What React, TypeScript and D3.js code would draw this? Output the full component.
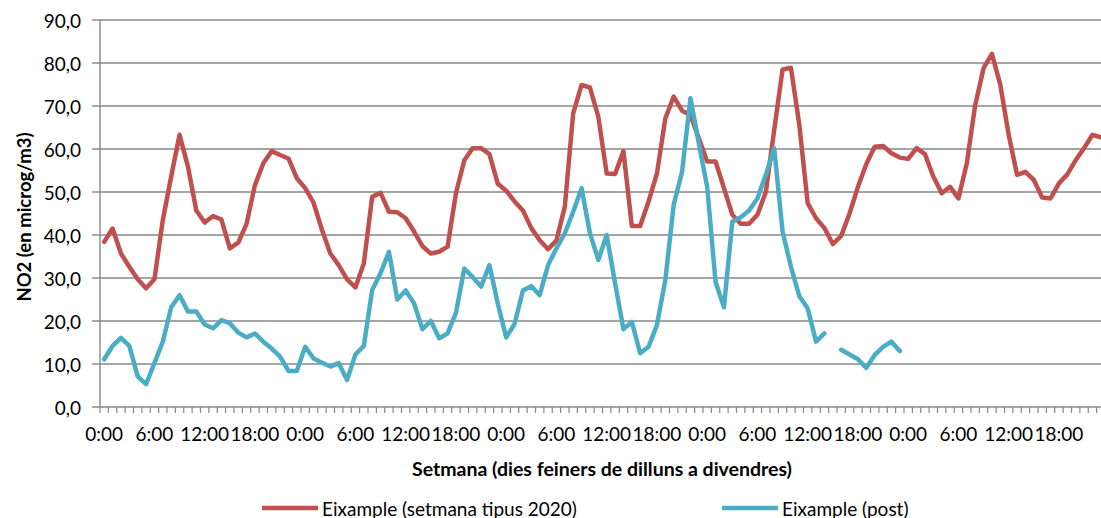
import React from "react";
import * as d3 from "d3";

const days = ["Dilluns", "Dimarts", "Dimecres", "Dijous", "Divendres"];
const hoursPerDay = 24;
const tickLabels = ["0:00", "6:00", "12:00", "18:00"];
const labelEvery = 6;
const yTicks = [0, 10, 20, 30, 40, 50, 60, 70, 80, 90];

const seriesNames = ["Eixample (setmana tipus 2020)", "Eixample (post)"];
const seriesColors = ["#C0504D", "#4BACC6"];

const tipus2020: (number | null)[] = [
  38.4, 41.5, 35.7, 32.6, 29.7, 27.6, 29.7, 43.5, 53.6, 63.3, 55.9, 45.7,
  42.9, 44.4, 43.6, 36.9, 38.2, 42.6, 51.6, 56.7, 59.5, 58.6, 57.8, 53.2,
  50.9, 47.5, 41.2, 35.7, 33.0, 29.7, 27.8, 33.4, 48.9, 49.8, 45.4, 45.3,
  43.9, 40.8, 37.4, 35.7, 36.1, 37.3, 49.7, 57.4, 60.2, 60.2, 58.8, 51.9,
  50.3, 47.8, 45.7, 41.6, 38.8, 36.7, 38.7, 46.6, 68.3, 74.9, 74.3, 67.5,
  54.3, 54.2, 59.5, 42.1, 42.1, 47.8, 54.3, 67.1, 72.2, 68.9, 67.9, 62.5,
  57.1, 57.1, 50.9, 44.7, 42.6, 42.6, 44.7, 50.0, 64.4, 78.5, 78.9, 65.6,
  47.4, 43.9, 41.6, 37.9, 39.8, 45.0, 51.2, 56.5, 60.5, 60.7, 59.0, 58.0,
  57.7, 60.2, 58.8, 53.6, 49.7, 51.2, 48.5, 56.7, 70.2, 78.8, 82.1, 74.9,
  63.3, 54.0, 54.7, 52.8, 48.7, 48.5, 52.0, 54.1, 57.4, 60.2, 63.3, 62.7,
];

const post: (number | null)[] = [
  11.1, 14.2, 16.1, 14.2, 7.1, 5.3, 10.2, 15.2, 23.2, 26.0, 22.2, 22.2,
  19.2, 18.3, 20.2, 19.5, 17.3, 16.2, 17.1, 15.2, 13.6, 11.7, 8.4, 8.4,
  14.0, 11.3, 10.3, 9.4, 10.2, 6.3, 12.2, 14.2, 27.2, 31.1, 36.1, 25.0,
  27.1, 24.1, 18.1, 20.0, 16.0, 17.1, 21.9, 32.2, 30.2, 28.0, 33.0, 24.0,
  16.2, 19.3, 27.1, 28.1, 26.0, 33.0, 36.9, 40.4, 45.4, 50.9, 40.4, 34.2,
  40.0, 28.8, 18.1, 19.8, 12.5, 14.0, 19.1, 29.5, 47.0, 54.7, 71.8, 61.3,
  51.2, 29.1, 23.2, 43.1, 44.1, 45.7, 48.5, 54.0, 60.2, 40.8, 32.6, 25.8,
  22.9, 15.2, 17.1, null, 13.3, 12.2, 11.1, 9.1, 12.1, 14.0, 15.2, 13.0,
  null, null, null, null, null, null, null, null, null, null, null, null,
  null, null, null, null, null, null, null, null, null, null, null, null,
];

const xTitle = "Setmana (dies feiners de dilluns a divendres)";
const yTitle = "NO2 (en microg/m3)";

const W = 1101;
const H = 518;
const FONT = "Lato, 'Open Sans', sans-serif";

export default function App() {
  const n = days.length * hoursPerDay;
  const idx = d3.range(n);
  const left = 100;
  const right = 1105;
  const top = 20;
  const bottom = 407;

  const x = d3.scaleBand<number>().domain(idx).range([left, right]).paddingInner(0).paddingOuter(0);
  const bw = x.bandwidth();
  const cx = (i: number) => (x(i) as number) + bw / 2;
  const y = d3.scaleLinear().domain([0, 90]).range([bottom, top]);

  const line = d3
    .line<number | null>()
    .defined((d) => d != null)
    .x((_, i) => cx(i))
    .y((d) => y(d as number));

  const series = [tipus2020, post];
  const labels = idx
    .filter((i) => i % labelEvery === 0)
    .map((i) => ({ i, text: tickLabels[(i % hoursPerDay) / labelEvery] }));

  const gridColor = "#878787";

  return (
    <svg width={W} height={H} style={{ position: "absolute", left: 0, top: 0, background: "#fff" }}>
      <g>
        {yTicks.map((t) => (
          <g key={t}>
            {t > 0 && (
              <line x1={left} x2={W} y1={y(t)} y2={y(t)} stroke={gridColor} strokeWidth={1.4} />
            )}
            <line x1={left - 8} x2={left} y1={y(t)} y2={y(t)} stroke={gridColor} strokeWidth={1.4} />
            <text
              x={81}
              y={y(t)}
              textAnchor="end"
              dominantBaseline="central"
              fontFamily={FONT}
              fontSize={19}
              fill="#000"
            >
              {t.toFixed(1).replace(".", ",")}
            </text>
          </g>
        ))}
        <line x1={left} x2={left} y1={top} y2={bottom} stroke={gridColor} strokeWidth={1.4} />
        <line x1={left} x2={W} y1={bottom} y2={bottom} stroke={gridColor} strokeWidth={1.4} />
        {d3.range(n + 1).map((k) => {
          const xx = left + k * bw;
          return <line key={k} x1={xx} x2={xx} y1={bottom} y2={bottom + 6} stroke={gridColor} strokeWidth={1.2} />;
        })}
        {labels.map((l) => (
          <text
            key={l.i}
            x={cx(l.i)}
            y={433}
            textAnchor="middle"
            dominantBaseline="central"
            fontFamily={FONT}
            fontSize={19}
            fill="#000"
          >
            {l.text}
          </text>
        ))}
      </g>
      {series.map((s, k) => (
        <path
          key={k}
          d={line(s) || ""}
          fill="none"
          stroke={seriesColors[k]}
          strokeWidth={4.5}
          strokeLinejoin="round"
          strokeLinecap="round"
        />
      ))}
      <text
        x={602}
        y={468}
        textAnchor="middle"
        dominantBaseline="central"
        fontFamily={FONT}
        fontWeight="bold"
        fontSize={19.5}
        fill="#000"
      >
        {xTitle}
      </text>
      <text
        transform={`translate(24,217) rotate(-90)`}
        textAnchor="middle"
        dominantBaseline="central"
        fontFamily={FONT}
        fontWeight="bold"
        fontSize={18.5}
        fill="#000"
      >
        {yTitle}
      </text>
      {seriesNames.map((name, k) => {
        const lx = k === 0 ? 262 : 722;
        return (
          <g key={name}>
            <line x1={lx} x2={lx + 56} y1={508} y2={508} stroke={seriesColors[k]} strokeWidth={4.5} />
            <text
              x={lx + 60}
              y={508}
              dominantBaseline="central"
              fontFamily={FONT}
              fontSize={19}
              fill="#000"
            >
              {name}
            </text>
          </g>
        );
      })}
    </svg>
  );
}
